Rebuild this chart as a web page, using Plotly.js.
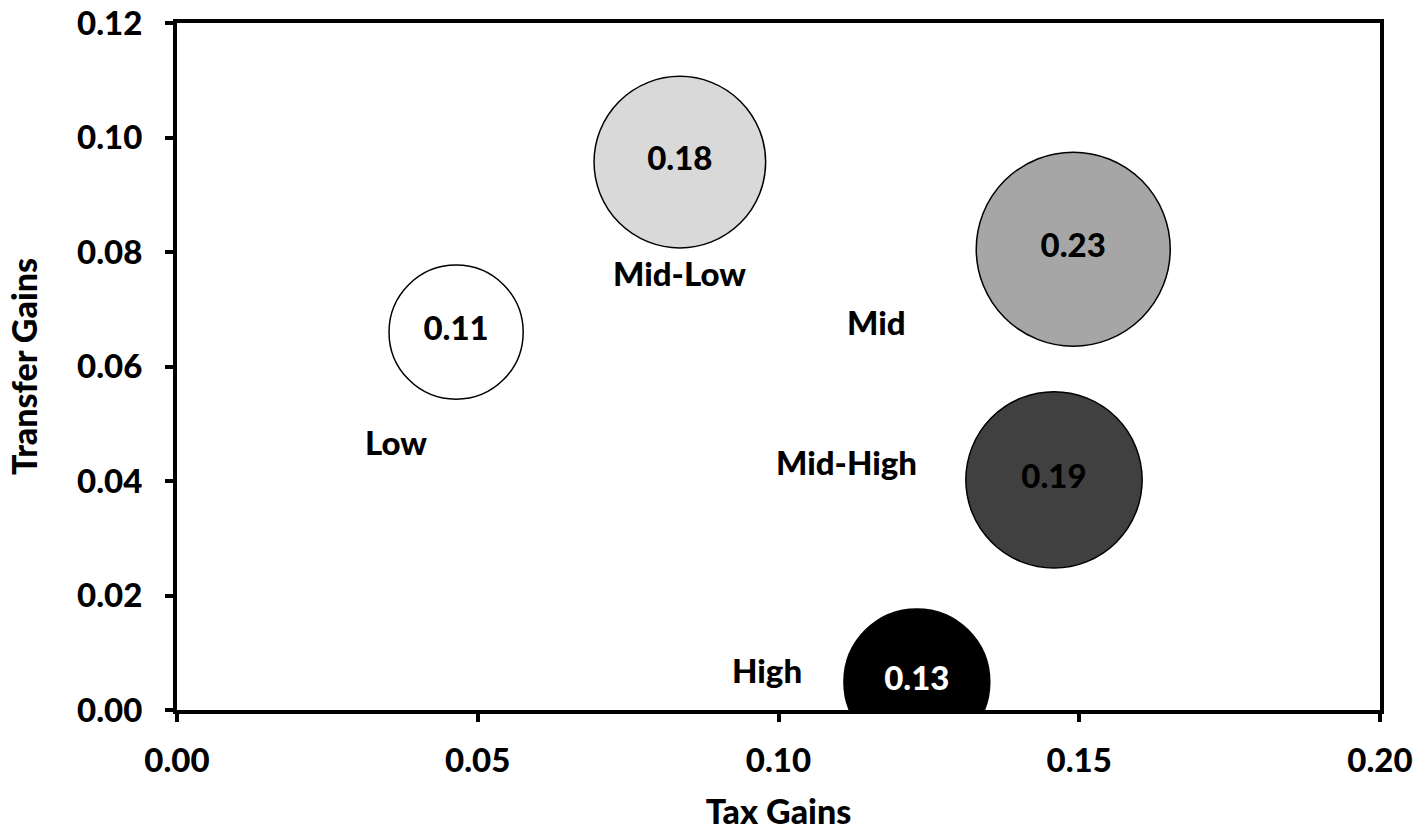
<!DOCTYPE html>
<html>
<head>
<meta charset="utf-8">
<script src="https://cdn.plot.ly/plotly-3.0.1.min.js"></script>
<style>
  html, body { margin: 0; padding: 0; background: #ffffff; }
  #chart { width: 1425px; height: 832px; }
</style>
</head>
<body>
<div id="chart"></div>
<script>
// ---- data ----
var groups       = ["Low", "Mid-Low", "Mid", "Mid-High", "High"];
var taxGains     = [0.0464, 0.0836, 0.1490, 0.1458, 0.1230];
var transferGains= [0.0660, 0.0957, 0.0805, 0.0402, 0.0049];
var totalGains   = [0.11, 0.18, 0.23, 0.19, 0.13];
var xTicks       = [0, 0.05, 0.10, 0.15, 0.20];
var yTicks       = [0, 0.02, 0.04, 0.06, 0.08, 0.10, 0.12];

// ---- styling ----
var fillColors = ["#ffffff", "#d9d9d9", "#a6a6a6", "#404040", "#000000"];
var textColors = ["#000000", "#000000", "#000000", "#000000", "#ffffff"];
// pixel offsets of each group name from its bubble centre
var nameShift = [[-60, -110], [0, -111], [-197, -73], [-207, 18], [-150, 12]];

var FONT = "Lato, 'Open Sans', sans-serif";
var W = 900;
var FS = 33;
var TS = 34;
var maxDiameter = 194;
var maxVal = Math.max.apply(null, totalGains);
var sizeref = 2 * maxVal / (maxDiameter * maxDiameter);

var trace = {
  type: "scatter",
  mode: "markers+text",
  x: taxGains,
  y: transferGains,
  text: totalGains.map(function (v) { return v.toFixed(2); }),
  textposition: "middle center",
  textfont: { family: FONT, size: FS, weight: W, color: textColors },
  marker: {
    size: totalGains,
    sizemode: "area",
    sizeref: sizeref,
    color: fillColors,
    opacity: 1,
    line: { color: "#000000", width: 1.5 }
  },
  cliponaxis: true,
  hoverinfo: "x+y+text"
};

var annotations = groups.map(function (g, i) {
  return {
    x: taxGains[i], y: transferGains[i], xref: "x", yref: "y",
    text: g, showarrow: false,
    xshift: nameShift[i][0], yshift: nameShift[i][1],
    font: { family: FONT, size: FS, weight: W, color: "#000000" }
  };
});

var axisCommon = {
  showgrid: false, zeroline: false,
  showline: true, linecolor: "#000000", linewidth: 4, mirror: true,
  ticks: "outside", ticklen: 8, tickwidth: 4, tickcolor: "#000000",
  tickfont: { family: FONT, size: FS, weight: W, color: "#000000" },
  tickmode: "array", tickformat: ".2f"
};

var layout = {
  width: 1425, height: 832,
  margin: { l: 177, r: 45, t: 23, b: 122 },
  paper_bgcolor: "#ffffff", plot_bgcolor: "#ffffff",
  showlegend: false,
  font: { family: FONT, color: "#000000" },
  xaxis: Object.assign({}, axisCommon, {
    range: [0, 0.20], tickvals: xTicks, ticklabelstandoff: 10,
    title: { text: "Tax Gains", font: { family: FONT, size: TS, weight: W, color: "#000000" }, standoff: 24 }
  }),
  yaxis: Object.assign({}, axisCommon, {
    range: [0, 0.12], tickvals: yTicks, ticklabelstandoff: 16,
    title: { text: "Transfer Gains", font: { family: FONT, size: TS, weight: W, color: "#000000" }, standoff: 30 }
  }),
  annotations: annotations
};

Plotly.newPlot("chart", [trace], layout, { displayModeBar: false, staticPlot: true });
</script>
</body>
</html>
